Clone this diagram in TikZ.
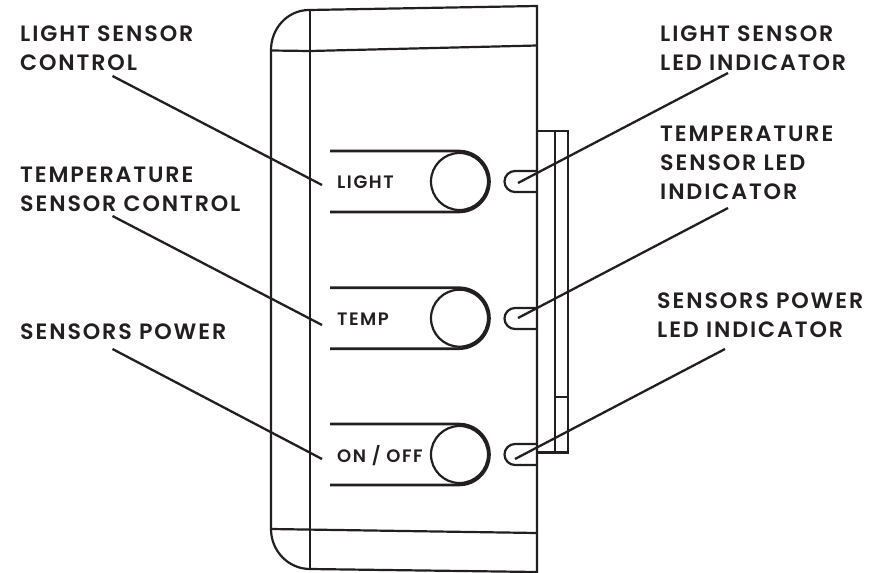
\documentclass[tikz,border=0pt]{standalone}
\usepackage{fontspec}
\setmainfont[UprightFont=* SemiBold,LetterSpace=8.5]{Poppins}
\definecolor{ink}{HTML}{231F20}
\tikzset{
  part/.style={draw=ink,line width=2.2pt,line join=miter},
  ledpart/.style={draw=ink,line width=2.2pt},
  btn/.style={draw=ink,line width=2.6pt},
  leader/.style={draw=ink,line width=2.3pt},
  biglabel/.style={text=ink,inner sep=0pt,anchor=base west,align=left,font=\fontsize{22.2}{28.6}\selectfont},
  smalllabel/.style={text=ink,inner sep=0pt,anchor=base west,font=\fontsize{18}{20}\selectfont},
  knob/.style={circle,draw=ink,line width=2.2pt,minimum size=57pt,inner sep=0pt}
}
\begin{document}
\begin{tikzpicture}[x=1pt,y=-1pt]
\useasboundingbox (0,0) rectangle (884,573);
% body
\draw[part] (271,529) -- (271,50) arc[start angle=180,end angle=90,x radius=38pt,y radius=40pt] -- (537,6) -- (537,572) -- (310,569) arc[start angle=270,end angle=180,x radius=39pt,y radius=40pt];
\draw[part] (310,10) -- (310,569);
\draw[part] (271,50.5) -- (310,51) -- (537,45.5);
\draw[part] (271,529) -- (537,533);
% side bar
\draw[part] (537,131) -- (568,131) -- (568,452.5) -- (537,452.5);
\draw[part] (555,131) -- (555,452.5);
\draw[part] (555,397) -- (568,397);
% leds
\foreach \yy/\nm in {181.5/a,318.5/b,454.5/c}{
  \draw[ledpart] (537,\yy-10.5) -- (515,\yy-10.5) arc[start angle=90,end angle=270,radius=10.5pt] -- (537,\yy+10.5);
}
% buttons
\foreach \yy/\nm in {181.5/a,318.2/b,454.5/c}{
  \draw[btn] (330,\yy-30.5) -- (459,\yy-30.5) arc[start angle=90,end angle=-90,radius=30.5pt] -- (330,\yy+30.5);
  \node[knob] (knob\nm) at (459.5,\yy) {};
}
% text
\node[smalllabel] (tlight) at (337,188) {LIGHT};
\node[smalllabel] (ttemp) at (337,325) {TEMP};
\node[smalllabel] (tonoff) at (337,462) {ON / OFF};
\node[biglabel] (l1) at (20,70) {LIGHT SENSOR\\CONTROL};
\node[biglabel] (l2) at (20,211) {TEMPERATURE\\SENSOR CONTROL};
\node[biglabel] (l3) at (20,339) {SENSORS POWER};
\node[biglabel] (r1) at (660,70) {LIGHT SENSOR\\LED INDICATOR};
\node[biglabel] (r2) at (660,199) {TEMPERATURE\\SENSOR LED\\INDICATOR};
\node[biglabel] (r3) at (657,337) {SENSORS POWER\\LED INDICATOR};
% leader ends
\coordinate (c1a) at (112.5,76); \coordinate (c1b) at (322,185);
\coordinate (c2a) at (112.5,216); \coordinate (c2b) at (322,325);
\coordinate (c3a) at (112.5,349); \coordinate (c3b) at (322,459);
\coordinate (d1a) at (728,73); \coordinate (d1b) at (518,183);
\coordinate (d2a) at (728,208); \coordinate (d2b) at (518,318);
\coordinate (d3a) at (725,349); \coordinate (d3b) at (515,459);
\foreach \p in {c1,c2,c3,d1,d2,d3}{\draw[leader] (\p a) -- (\p b);}
\end{tikzpicture}
\end{document}
